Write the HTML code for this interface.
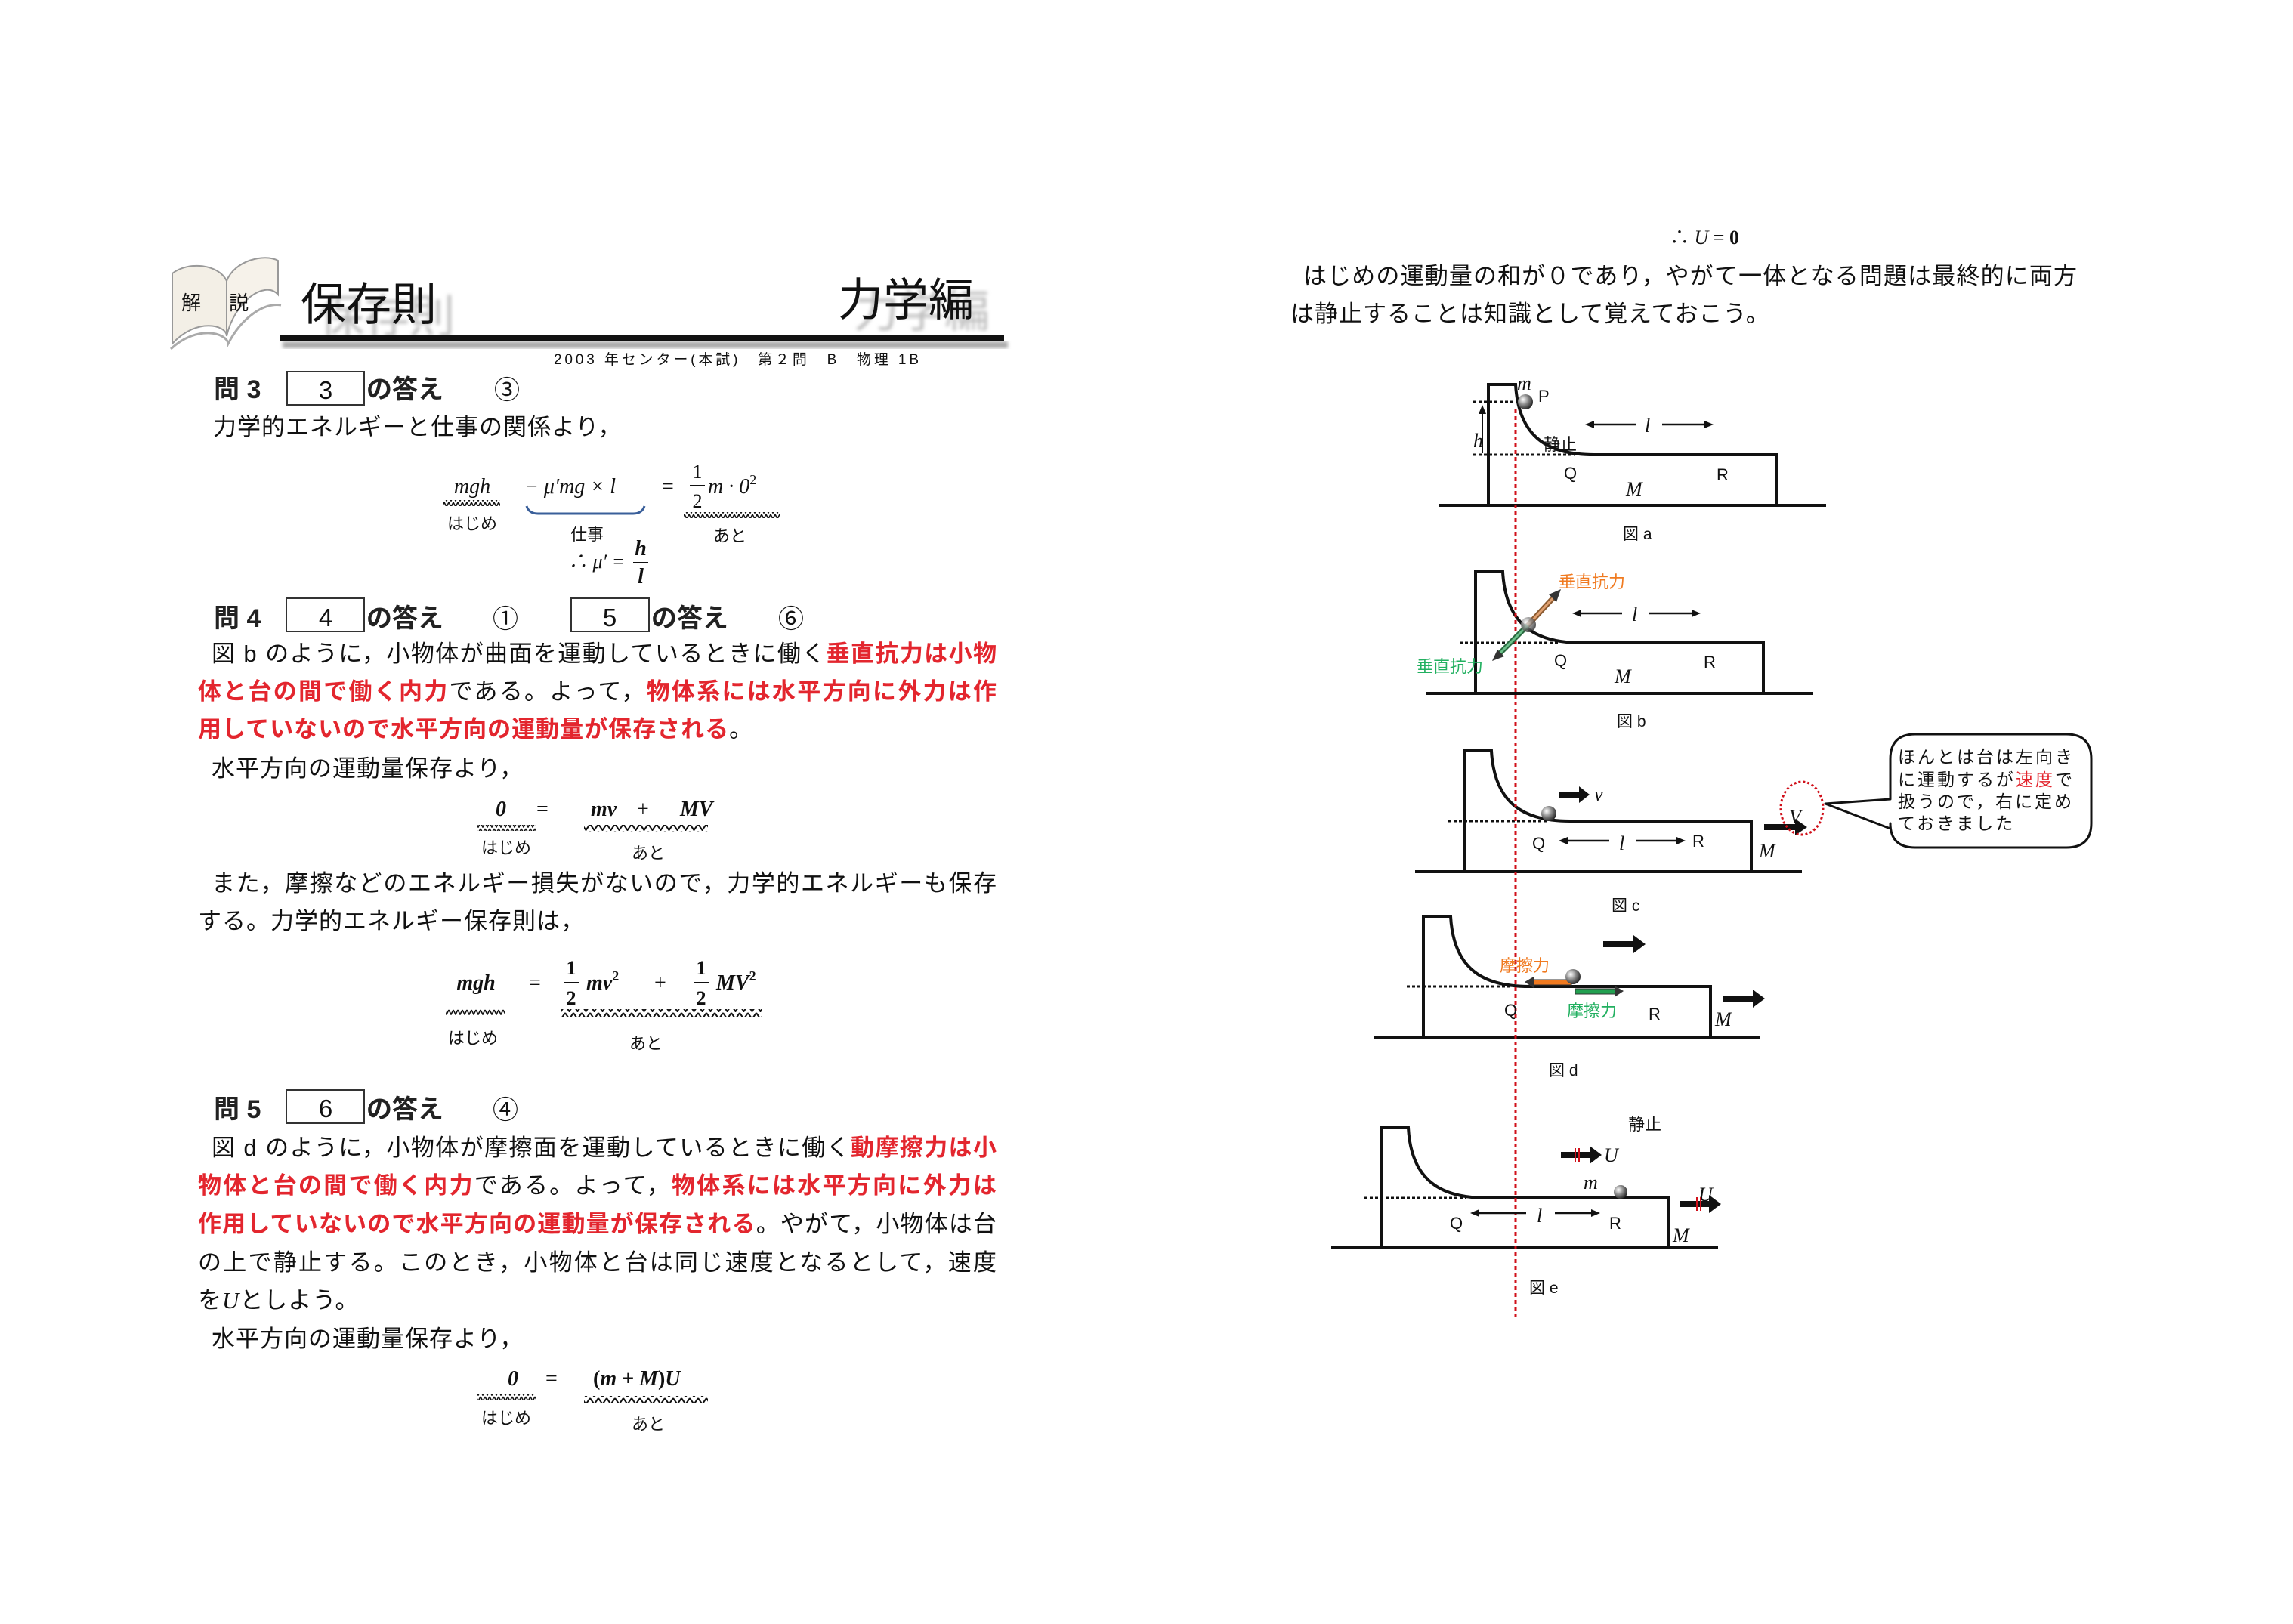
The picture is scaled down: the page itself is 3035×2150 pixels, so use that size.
<!DOCTYPE html>
<html><head><meta charset="utf-8">
<style>
html,body{margin:0;padding:0;background:#fff;}
svg{display:block;}
.j{font-family:"Liberation Sans","Noto Sans CJK JP",sans-serif;font-size:31px;letter-spacing:1px;fill:#111;}
.r{fill:#e3262e;font-weight:bold;}
.s{font-family:"Liberation Serif","Noto Serif CJK SC",serif;font-style:italic;fill:#111;}
.sb{font-family:"Liberation Serif",serif;font-weight:bold;font-style:italic;fill:#111;}
.f{font-family:"Liberation Sans","Noto Sans CJK JP",sans-serif;fill:#111;}
</style></head>
<body>
<svg width="3035" height="2150" viewBox="0 0 3035 2150" xmlns="http://www.w3.org/2000/svg">
<defs>
<pattern id="zz" width="6" height="8" patternUnits="userSpaceOnUse">
<path d="M0,1 L3,7 L6,1" fill="none" stroke="#111" stroke-width="1.6"/>
</pattern>
<pattern id="zz2" width="11" height="10" patternUnits="userSpaceOnUse">
<path d="M0,1 L5.5,9 L11,1" fill="none" stroke="#111" stroke-width="2"/>
</pattern>
<radialGradient id="ball" cx="0.35" cy="0.35" r="0.7">
<stop offset="0" stop-color="#fff"/><stop offset="0.5" stop-color="#888"/><stop offset="1" stop-color="#222"/>
</radialGradient>
<filter id="bl"><feGaussianBlur stdDeviation="2.5"/></filter>
</defs>

<!-- ===== Header ===== -->
<path d="M228,455 C260,420 300,430 300,445 L300,372 C290,350 250,345 228,362 Z" fill="#f3efe6" stroke="#999" stroke-width="2"/>
<path d="M300,445 C310,400 350,370 368,390 L368,345 C350,335 310,345 300,372 Z" fill="#f6f2ea" stroke="#999" stroke-width="2"/>
<path d="M226,462 C260,430 300,440 302,455 C320,420 350,400 372,404" fill="none" stroke="#aaa" stroke-width="3"/>
<text x="240" y="410" class="f" font-size="26">解</text>
<text x="303" y="410" class="f" font-size="26">説</text>
<text x="422" y="440" class="f" font-size="60" style="fill:#bdbdbd" filter="url(#bl)">保存則</text>
<text x="398" y="424" class="f" font-size="60">保存則</text>
<text x="1130" y="433" class="f" font-size="60" style="fill:#bdbdbd" filter="url(#bl)">力学編</text>
<text x="1109" y="418" class="f" font-size="60">力学編</text>
<rect x="374" y="452" width="960" height="9" fill="#aaa" filter="url(#bl)"/>
<rect x="371" y="444" width="958" height="8" fill="#111"/>
<text x="733" y="482" class="f" font-size="19" textLength="483" lengthAdjust="spacing">2003 年センター(本試)　第２問　B　物理 1B</text>

<!-- ===== 問3 ===== -->
<text x="283" y="527" class="f" font-size="34" font-weight="bold" style="fill:#222">問 3</text>
<rect x="380" y="492" width="102" height="44" fill="#fff" stroke="#333" stroke-width="2"/>
<text x="431" y="528" class="f" font-size="33" text-anchor="middle">3</text>
<text x="485" y="527" class="f" font-size="34" font-weight="bold" style="fill:#222">の答え</text>
<text x="654" y="528" class="f" font-size="34">③</text>
<text x="282" y="576" class="j">力学的エネルギーと仕事の関係より，</text>

<text x="625" y="653" class="s" font-size="28" text-anchor="middle">mgh</text>
<rect x="586" y="662" width="76" height="8" fill="url(#zz)"/>
<text x="625" y="701" class="f" font-size="22" text-anchor="middle">はじめ</text>
<text x="694" y="653" class="s" font-size="28">− μ′mg × l</text>
<path d="M697,670 Q700,680 712,680 L838,680 Q850,680 853,670" fill="none" stroke="#3a5f9a" stroke-width="3"/>
<text x="777" y="715" class="f" font-size="22" text-anchor="middle">仕事</text>
<text x="876" y="653" class="s" font-size="28" style="font-style:normal">=</text>
<text x="923" y="633" class="s" font-size="26" style="font-style:normal" text-anchor="middle">1</text>
<line x1="913" y1="643" x2="933" y2="643" stroke="#111" stroke-width="2"/>
<text x="923" y="672" class="s" font-size="26" style="font-style:normal" text-anchor="middle">2</text>
<text x="937" y="653" class="s" font-size="28">m · 0<tspan font-size="18" dy="-12" style="font-style:normal">2</tspan></text>
<rect x="905" y="678" width="128" height="8" fill="url(#zz)"/>
<text x="966" y="717" class="f" font-size="22" text-anchor="middle">あと</text>
<text x="752" y="752" class="s" font-size="26">∴ μ′ =</text>
<text x="848" y="735" class="sb" font-size="28" text-anchor="middle">h</text>
<line x1="838" y1="745" x2="858" y2="745" stroke="#111" stroke-width="2"/>
<text x="848" y="772" class="sb" font-size="28" text-anchor="middle">l</text>

<!-- ===== 問4 ===== -->
<text x="283" y="830" class="f" font-size="34" font-weight="bold" style="fill:#222">問 4</text>
<rect x="379" y="792" width="103" height="44" fill="#fff" stroke="#333" stroke-width="2"/>
<text x="431" y="829" class="f" font-size="33" text-anchor="middle">4</text>
<text x="485" y="830" class="f" font-size="34" font-weight="bold" style="fill:#222">の答え</text>
<text x="652" y="831" class="f" font-size="34">①</text>
<rect x="756" y="792" width="103" height="44" fill="#fff" stroke="#333" stroke-width="2"/>
<text x="807" y="829" class="f" font-size="33" text-anchor="middle">5</text>
<text x="862" y="830" class="f" font-size="34" font-weight="bold" style="fill:#222">の答え</text>
<text x="1030" y="831" class="f" font-size="34">⑥</text>

<text x="280" y="876" class="j" textLength="1040" lengthAdjust="spacing">図 b のように，小物体が曲面を運動しているときに働く<tspan class="r">垂直抗力は小物</tspan></text>
<text x="262" y="926" class="j" textLength="1058" lengthAdjust="spacing"><tspan class="r">体と台の間で働く内力</tspan>である。よって，<tspan class="r">物体系には水平方向に外力は作</tspan></text>
<text x="262" y="976" class="j"><tspan class="r">用していないので水平方向の運動量が保存される</tspan>。</text>
<text x="280" y="1028" class="j">水平方向の運動量保存より，</text>

<text x="663" y="1080" class="sb" font-size="28" text-anchor="middle">0</text>
<rect x="631" y="1092" width="78" height="8" fill="url(#zz)"/>
<text x="670" y="1130" class="f" font-size="22" text-anchor="middle">はじめ</text>
<text x="710" y="1080" class="s" font-size="28" style="font-style:normal">=</text>
<text x="782" y="1080" class="sb" font-size="28">mv</text>
<text x="843" y="1080" class="s" font-size="28" style="font-style:normal">+</text>
<text x="900" y="1080" class="sb" font-size="28">MV</text>
<rect x="773" y="1092" width="164" height="10" fill="url(#zz2)"/>
<text x="858" y="1137" class="f" font-size="22" text-anchor="middle">あと</text>

<text x="280" y="1180" class="j" textLength="1040" lengthAdjust="spacing">また，摩擦などのエネルギー損失がないので，力学的エネルギーも保存</text>
<text x="262" y="1230" class="j">する。力学的エネルギー保存則は，</text>

<text x="630" y="1310" class="sb" font-size="28" text-anchor="middle">mgh</text>
<rect x="590" y="1336" width="78" height="8" fill="url(#zz)"/>
<text x="626" y="1382" class="f" font-size="22" text-anchor="middle">はじめ</text>
<text x="700" y="1310" class="s" font-size="28" style="font-style:normal">=</text>
<text x="756" y="1290" class="sb" font-size="26" text-anchor="middle" style="font-style:normal">1</text>
<line x1="746" y1="1301" x2="766" y2="1301" stroke="#111" stroke-width="2"/>
<text x="756" y="1330" class="sb" font-size="26" text-anchor="middle" style="font-style:normal">2</text>
<text x="776" y="1310" class="sb" font-size="28">mv<tspan font-size="18" dy="-12" style="font-style:normal">2</tspan></text>
<text x="866" y="1310" class="s" font-size="28" style="font-style:normal">+</text>
<text x="928" y="1290" class="sb" font-size="26" text-anchor="middle" style="font-style:normal">1</text>
<line x1="918" y1="1301" x2="938" y2="1301" stroke="#111" stroke-width="2"/>
<text x="928" y="1330" class="sb" font-size="26" text-anchor="middle" style="font-style:normal">2</text>
<text x="948" y="1310" class="sb" font-size="28">MV<tspan font-size="18" dy="-12" style="font-style:normal">2</tspan></text>
<rect x="742" y="1336" width="266" height="10" fill="url(#zz2)"/>
<text x="855" y="1389" class="f" font-size="22" text-anchor="middle">あと</text>

<!-- ===== 問5 ===== -->
<text x="283" y="1480" class="f" font-size="34" font-weight="bold" style="fill:#222">問 5</text>
<rect x="379" y="1443" width="103" height="44" fill="#fff" stroke="#333" stroke-width="2"/>
<text x="431" y="1479" class="f" font-size="33" text-anchor="middle">6</text>
<text x="485" y="1480" class="f" font-size="34" font-weight="bold" style="fill:#222">の答え</text>
<text x="652" y="1481" class="f" font-size="34">④</text>

<text x="280" y="1530" class="j" textLength="1040" lengthAdjust="spacing">図 d のように，小物体が摩擦面を運動しているときに働く<tspan class="r">動摩擦力は小</tspan></text>
<text x="262" y="1580" class="j" textLength="1058" lengthAdjust="spacing"><tspan class="r">物体と台の間で働く内力</tspan>である。よって，<tspan class="r">物体系には水平方向に外力は</tspan></text>
<text x="262" y="1631" class="j" textLength="1058" lengthAdjust="spacing"><tspan class="r">作用していないので水平方向の運動量が保存される</tspan>。やがて，小物体は台</text>
<text x="262" y="1682" class="j" textLength="1058" lengthAdjust="spacing">の上で静止する。このとき，小物体と台は同じ速度となるとして，速度</text>
<text x="262" y="1732" class="j">を<tspan class="s">U</tspan>としよう。</text>
<text x="280" y="1783" class="j">水平方向の運動量保存より，</text>

<text x="679" y="1834" class="sb" font-size="28" text-anchor="middle">0</text>
<rect x="631" y="1846" width="78" height="8" fill="url(#zz)"/>
<text x="670" y="1885" class="f" font-size="22" text-anchor="middle">はじめ</text>
<text x="722" y="1834" class="s" font-size="28" style="font-style:normal">=</text>
<text x="785" y="1834" class="sb" font-size="28"><tspan style="font-style:normal">(</tspan>m + M<tspan style="font-style:normal">)</tspan>U</text>
<rect x="773" y="1848" width="164" height="10" fill="url(#zz2)"/>
<text x="858" y="1893" class="f" font-size="22" text-anchor="middle">あと</text>

<!-- ===== Right paragraph ===== -->
<text x="2210" y="323" class="s" font-size="26" style="font-style:normal">∴ <tspan font-style="italic">U</tspan> = <tspan font-weight="bold">0</tspan></text>
<text x="1725" y="376" class="j" textLength="1025" lengthAdjust="spacing">はじめの運動量の和が０であり，やがて一体となる問題は最終的に両方</text>
<text x="1708" y="426" class="j">は静止することは知識として覚えておこう。</text>

<!-- ===== Figures ===== -->
<g fill="none" stroke="#111" stroke-width="4">
<path d="M1970,669 L1970,509 L2006,509 C2010,580 2050,602 2110,602 L2351,602 L2351,669"/>
<line x1="1905" y1="669" x2="2417" y2="669"/>
<path d="M1953,918 L1953,757 L1989,757 C1993,828 2033,851 2093,851 L2334,851 L2334,918"/>
<line x1="1888" y1="918" x2="2400" y2="918"/>
<path d="M1938,1154 L1938,994 L1974,994 C1978,1065 2018,1087 2078,1087 L2318,1087 L2318,1154"/>
<line x1="1873" y1="1154" x2="2385" y2="1154"/>
<path d="M1884,1373 L1884,1213 L1920,1213 C1924,1284 1964,1306 2024,1306 L2264,1306 L2264,1373"/>
<line x1="1818" y1="1373" x2="2330" y2="1373"/>
<path d="M1828,1652 L1828,1493 L1864,1493 C1868,1564 1908,1586 1968,1586 L2208,1586 L2208,1652"/>
<line x1="1762" y1="1652" x2="2274" y2="1652"/>
</g>
<g stroke="#111" stroke-width="3" stroke-dasharray="4,3">
<line x1="1950" y1="532" x2="2003" y2="532"/>
<line x1="1950" y1="602" x2="2085" y2="602"/>
<line x1="1932" y1="851" x2="2065" y2="851"/>
<line x1="1917" y1="1087" x2="2050" y2="1087"/>
<line x1="1862" y1="1306" x2="2000" y2="1306"/>
<line x1="1806" y1="1586" x2="1940" y2="1586"/>
</g>
<line x1="2006" y1="542" x2="2006" y2="1745" stroke="#d0101a" stroke-width="3" stroke-dasharray="5,4"/>

<!-- fig a -->
<line x1="1962" y1="600" x2="1962" y2="545" stroke="#111" stroke-width="2"/>
<polygon points="1962,536 1957,548 1967,548" fill="#111"/>
<text x="1950" y="592" class="s" font-size="26">h</text>
<circle cx="2019" cy="532" r="10" fill="url(#ball)"/>
<text x="2008" y="516" class="s" font-size="26">m</text>
<text x="2036" y="532" class="f" font-size="22">P</text>
<text x="2043" y="596" class="f" font-size="22">静止</text>
<g stroke="#111" stroke-width="2.5"><line x1="2105" y1="562" x2="2165" y2="562"/><line x1="2200" y1="562" x2="2262" y2="562"/></g>
<polygon points="2098,562 2110,557 2110,567" fill="#111"/><polygon points="2268,562 2256,557 2256,567" fill="#111"/>
<text x="2177" y="572" class="s" font-size="26">l</text>
<text x="2070" y="634" class="f" font-size="22">Q</text>
<text x="2272" y="636" class="f" font-size="22">R</text>
<text x="2152" y="656" class="s" font-size="26">M</text>
<text x="2148" y="714" class="f" font-size="21">図 a</text>

<!-- fig b -->
<line x1="2022" y1="828" x2="2060" y2="787" stroke="#8a5a30" stroke-width="7"/>
<line x1="2022" y1="828" x2="2060" y2="787" stroke="#e0a070" stroke-width="3"/>
<polygon points="2066,780 2050,787 2060,797" fill="#333"/>
<line x1="2022" y1="828" x2="1982" y2="868" stroke="#2a6a40" stroke-width="7"/>
<line x1="2022" y1="828" x2="1982" y2="868" stroke="#6cc08a" stroke-width="3"/>
<polygon points="1975,875 1982,860 1991,869" fill="#333"/>
<circle cx="2023" cy="827" r="10" fill="url(#ball)" opacity="0.8"/>
<text x="2063" y="778" class="f" font-size="22" style="fill:#f07a20">垂直抗力</text>
<text x="1875" y="890" class="f" font-size="22" style="fill:#22b060">垂直抗力</text>
<g stroke="#111" stroke-width="2.5"><line x1="2088" y1="812" x2="2147" y2="812"/><line x1="2183" y1="812" x2="2245" y2="812"/></g>
<polygon points="2081,812 2093,807 2093,817" fill="#111"/><polygon points="2251,812 2239,807 2239,817" fill="#111"/>
<text x="2160" y="822" class="s" font-size="26">l</text>
<text x="2057" y="882" class="f" font-size="22">Q</text>
<text x="2255" y="884" class="f" font-size="22">R</text>
<text x="2137" y="904" class="s" font-size="26">M</text>
<text x="2140" y="962" class="f" font-size="21">図 b</text>

<!-- fig c -->
<circle cx="2050" cy="1077" r="10" fill="url(#ball)"/>
<polygon points="2064,1048 2090,1048 2090,1041 2104,1052 2090,1063 2090,1056 2064,1056" fill="#111"/>
<text x="2110" y="1060" class="s" font-size="26">v</text>
<text x="2028" y="1124" class="f" font-size="22">Q</text>
<g stroke="#111" stroke-width="2.5"><line x1="2070" y1="1113" x2="2130" y2="1113"/><line x1="2165" y1="1113" x2="2225" y2="1113"/></g>
<polygon points="2063,1113 2075,1108 2075,1118" fill="#111"/><polygon points="2231,1113 2219,1108 2219,1118" fill="#111"/>
<text x="2143" y="1125" class="s" font-size="26">l</text>
<text x="2240" y="1121" class="f" font-size="22">R</text>
<text x="2328" y="1135" class="s" font-size="26">M</text>
<polygon points="2335,1091 2376,1091 2376,1084 2392,1095 2376,1106 2376,1099 2335,1099" fill="#111"/>
<ellipse cx="2385" cy="1070" rx="28" ry="35" fill="none" stroke="#d0101a" stroke-width="3" stroke-dasharray="3,3"/>
<text x="2368" y="1090" class="s" font-size="26">V</text>
<path d="M2535,972 L2735,972 Q2768,972 2768,1005 L2768,1090 Q2768,1122 2735,1122 L2535,1122 Q2502,1122 2502,1090 L2502,1097 L2416,1064 L2502,1058 L2502,1005 Q2502,972 2535,972 Z" fill="#fff" stroke="#111" stroke-width="3" stroke-linejoin="round"/>
<g class="f" font-size="23" letter-spacing="3">
<text x="2512" y="1010">ほんとは台は左向き</text>
<text x="2512" y="1040">に運動するが<tspan style="fill:#e3262e">速度</tspan>で</text>
<text x="2512" y="1069">扱うので，右に定め</text>
<text x="2512" y="1098">ておきました</text>
</g>
<text x="2133" y="1206" class="f" font-size="21">図 c</text>

<!-- fig d -->
<polygon points="2122,1246 2162,1246 2162,1238 2178,1250 2162,1262 2162,1254 2122,1254" fill="#111"/>
<text x="1985" y="1286" class="f" font-size="22" style="fill:#f07a20">摩擦力</text>
<rect x="2026" y="1297" width="54" height="7" fill="#f07a20" stroke="#333" stroke-width="1"/>
<polygon points="2018,1300 2030,1293 2030,1308" fill="#333"/>
<circle cx="2082" cy="1293" r="10" fill="url(#ball)"/>
<rect x="2085" y="1309" width="56" height="7" fill="#22a050" stroke="#333" stroke-width="1"/>
<polygon points="2149,1312 2137,1305 2137,1320" fill="#333"/>
<text x="2074" y="1346" class="f" font-size="22" style="fill:#22b060">摩擦力</text>
<text x="1991" y="1345" class="f" font-size="22">Q</text>
<text x="2182" y="1350" class="f" font-size="22">R</text>
<text x="2270" y="1358" class="s" font-size="26">M</text>
<polygon points="2280,1318 2320,1318 2320,1310 2336,1322 2320,1334 2320,1326 2280,1326" fill="#111"/>
<text x="2050" y="1424" class="f" font-size="21">図 d</text>

<!-- fig e -->
<text x="2155" y="1496" class="f" font-size="22">静止</text>
<polygon points="2066,1525 2104,1525 2104,1517 2120,1529 2104,1541 2104,1533 2066,1533" fill="#111"/>
<g stroke="#d0101a" stroke-width="2"><line x1="2085" y1="1520" x2="2085" y2="1538"/><line x1="2090" y1="1520" x2="2090" y2="1538"/></g>
<text x="2123" y="1538" class="s" font-size="26">U</text>
<text x="2096" y="1574" class="s" font-size="26">m</text>
<circle cx="2145" cy="1578" r="9" fill="url(#ball)"/>
<text x="1919" y="1627" class="f" font-size="22">Q</text>
<g stroke="#111" stroke-width="2.5"><line x1="1953" y1="1606" x2="2020" y2="1606"/><line x1="2058" y1="1606" x2="2112" y2="1606"/></g>
<polygon points="1946,1606 1958,1601 1958,1611" fill="#111"/><polygon points="2118,1606 2106,1601 2106,1611" fill="#111"/>
<text x="2034" y="1618" class="s" font-size="26">l</text>
<text x="2130" y="1627" class="f" font-size="22">R</text>
<text x="2214" y="1644" class="s" font-size="26">M</text>
<text x="2248" y="1590" class="s" font-size="26">U</text>
<polygon points="2224,1590 2262,1590 2262,1582 2278,1594 2262,1606 2262,1598 2224,1598" fill="#111"/>
<g stroke="#d0101a" stroke-width="2"><line x1="2246" y1="1585" x2="2246" y2="1603"/><line x1="2251" y1="1585" x2="2251" y2="1603"/></g>
<text x="2024" y="1712" class="f" font-size="21">図 e</text>
</svg>
</body></html>
